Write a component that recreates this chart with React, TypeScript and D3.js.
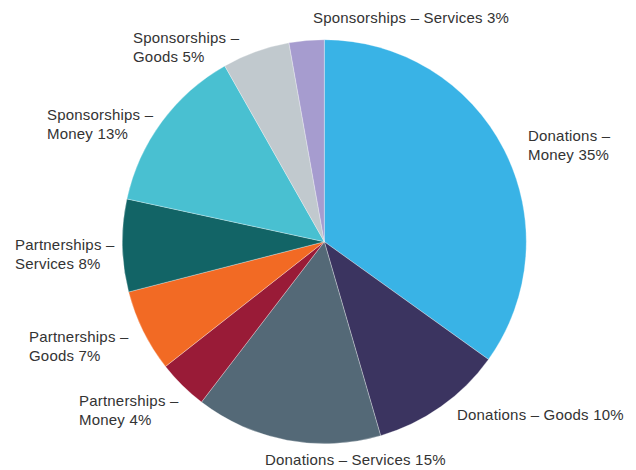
import React from "react";
import * as d3 from "d3";

const categories = [
  "Donations – Money",
  "Donations – Goods",
  "Donations – Services",
  "Partnerships – Money",
  "Partnerships – Goods",
  "Partnerships – Services",
  "Sponsorships – Money",
  "Sponsorships – Goods",
  "Sponsorships – Services",
];
// slice sizes (labels show the rounded shares)
const values = [34.9, 10.6, 14.9, 4.0, 6.6, 7.4, 13.4, 5.4, 2.8];
const percentLabels = ["35%", "10%", "15%", "4%", "7%", "8%", "13%", "5%", "3%"];
const colors = [
  "#39B3E6",
  "#3B3460",
  "#546977",
  "#991B37",
  "#F26A24",
  "#126466",
  "#49C0D1",
  "#C1C9CE",
  "#A69CCF",
];
// label text lines per slice
const labelLines: string[][] = [
  ["Donations –", "Money " + percentLabels[0]],
  ["Donations – Goods " + percentLabels[1]],
  ["Donations – Services " + percentLabels[2]],
  ["Partnerships –", "Money " + percentLabels[3]],
  ["Partnerships –", "Goods " + percentLabels[4]],
  ["Partnerships –", "Services " + percentLabels[5]],
  ["Sponsorships –", "Money " + percentLabels[6]],
  ["Sponsorships –", "Goods " + percentLabels[7]],
  ["Sponsorships – Services " + percentLabels[8]],
];

// layout (label anchor: left x, first baseline y)
const labelPos: [number, number][] = [
  [528, 141],
  [457, 420],
  [265, 465],
  [79, 406],
  [29, 342],
  [15, 250],
  [47, 120],
  [133, 43],
  [313, 23],
];

const W = 636;
const H = 470;
const cx = 324.3;
const cy = 241.7;
const R = 202;

export default function App() {
  const pie = d3
    .pie<number>()
    .sort(null)
    .value((d) => d);
  const arcs = pie(values);
  const arc = d3.arc<d3.PieArcDatum<number>>().innerRadius(0).outerRadius(R);
  return (
    <svg
      width={W}
      height={H}
      style={{ position: "absolute", left: 0, top: 0, background: "#fff" }}
    >
      <g transform={`translate(${cx},${cy})`}>
        {arcs.map((a, i) => (
          <path
            key={categories[i]}
            d={arc(a) || ""}
            fill={colors[i]}
            stroke="#ffffff"
            strokeOpacity={0.5}
            strokeWidth={0.6}
          />
        ))}
      </g>
      {labelLines.map((lines, i) => (
        <text
          key={i}
          x={labelPos[i][0]}
          y={labelPos[i][1]}
          fontFamily="'Liberation Sans', Arial, sans-serif"
          fontSize={15}
          letterSpacing={0.2}
          fill="#333333"
        >
          {lines.map((l, j) => (
            <tspan key={j} x={labelPos[i][0]} dy={j === 0 ? 0 : 18.5}>
              {l}
            </tspan>
          ))}
        </text>
      ))}
    </svg>
  );
}
